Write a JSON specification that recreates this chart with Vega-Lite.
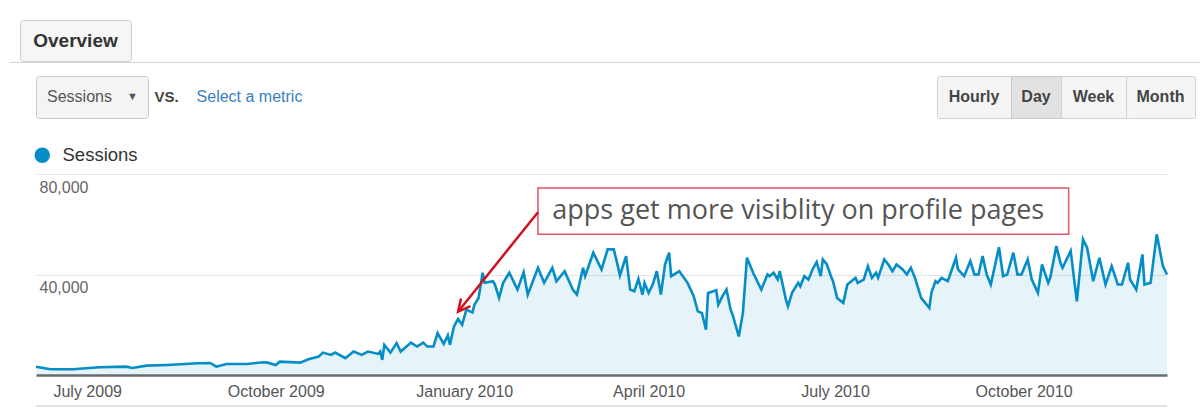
{
  "$schema": "https://vega.github.io/schema/vega-lite/v6.json",
  "padding": {"left": 10, "top": 19, "right": 0, "bottom": 0},
  "background": "white",
  "config": {
    "view": {"stroke": null},
    "font": "Liberation Sans"
  },
  "resolve": {"scale": {"color": "independent"}, "legend": {"color": "independent"}},
  "spacing": 27,
  "vconcat": [
    {
      "spacing": 12,
      "vconcat": [
        {
          "spacing": 0,
          "vconcat": [
            {
              "spacing": 0,
              "bounds": "flush",
              "hconcat": [
                {"width": 10, "height": 41, "data": {"values": []}, "mark": {"type": "text", "text": ""}},
                {
                  "width": 111,
                  "height": 41,
                  "view": {"fill": "#f6f6f6", "stroke": "#cccccc", "cornerRadius": 3},
                  "data": {"values": [{"label": "Overview"}]},
                  "mark": {"type": "text", "fontSize": 19, "fontWeight": "bold", "color": "#333333"},
                  "encoding": {"text": {"field": "label"}}
                }
              ]
            },
            {
              "width": 1190,
              "height": 1,
              "view": {"fill": "#d6d6d6"},
              "data": {"values": []},
              "mark": {"type": "text", "text": ""}
            }
          ]
        },
        {
          "spacing": 0,
          "bounds": "flush",
          "hconcat": [
            {"width": 26, "height": 42, "data": {"values": []}, "mark": {"type": "text", "text": ""}},
            {
              "width": 112,
              "height": 42,
              "view": {"fill": "#f4f4f4", "stroke": "#c8c8c8", "cornerRadius": 3},
              "data": {"values": [{"part": "Sessions"}, {"part": "▼"}]},
              "mark": {"type": "text", "color": "#555555"},
              "encoding": {
                "x": {
                  "field": "part",
                  "type": "nominal",
                  "scale": {"type": "point", "domain": ["Sessions", "▼"], "padding": 0.557, "align": 0.737},
                  "axis": null
                },
                "text": {"field": "part"},
                "size": {"condition": {"test": "datum.part === '▼'", "value": 11}, "value": 16}
              }
            },
            {
              "width": 37,
              "height": 42,
              "data": {"values": [{"label": "VS."}]},
              "mark": {"type": "text", "fontSize": 15, "fontWeight": "bold", "color": "#444444"},
              "encoding": {"text": {"field": "label"}}
            },
            {
              "width": 129,
              "height": 42,
              "data": {"values": [{"label": "Select a metric"}]},
              "mark": {"type": "text", "fontSize": 16, "color": "#3a7fc1"},
              "encoding": {"text": {"field": "label"}}
            },
            {"width": 623, "height": 42, "data": {"values": []}, "mark": {"type": "text", "text": ""}},
            {
              "width": 74,
              "height": 42,
              "view": {"fill": "#f5f5f5", "stroke": "#d0d0d0", "cornerRadius": 2},
              "data": {"values": [{"label": "Hourly"}]},
              "mark": {"type": "text", "fontSize": 16, "fontWeight": "bold", "color": "#444444"},
              "encoding": {"text": {"field": "label"}}
            },
            {
              "width": 50,
              "height": 42,
              "view": {"fill": "#e2e2e2", "stroke": "#c8c8c8"},
              "data": {"values": [{"label": "Day"}]},
              "mark": {"type": "text", "fontSize": 16, "fontWeight": "bold", "color": "#444444"},
              "encoding": {"text": {"field": "label"}}
            },
            {
              "width": 65,
              "height": 42,
              "view": {"fill": "#f5f5f5", "stroke": "#d0d0d0"},
              "data": {"values": [{"label": "Week"}]},
              "mark": {"type": "text", "fontSize": 16, "fontWeight": "bold", "color": "#444444"},
              "encoding": {"text": {"field": "label"}}
            },
            {
              "width": 69,
              "height": 42,
              "view": {"fill": "#f5f5f5", "stroke": "#d0d0d0", "cornerRadius": 2},
              "data": {"values": [{"label": "Month"}]},
              "mark": {"type": "text", "fontSize": 16, "fontWeight": "bold", "color": "#444444"},
              "encoding": {"text": {"field": "label"}}
            }
          ]
        }
      ]
    },
    {
      "spacing": 6,
      "resolve": {"scale": {"color": "independent"}, "legend": {"color": "independent"}},
      "vconcat": [
        {
          "spacing": 0,
          "bounds": "flush",
          "resolve": {"scale": {"color": "independent"}, "legend": {"color": "independent"}},
          "hconcat": [
            {"width": 26, "height": 20, "data": {"values": []}, "mark": {"type": "text", "text": ""}},
            {
              "width": 1131,
              "height": 201,
              "data": {
                "values": [
                  {"date": "2009-06-06", "sessions": 3320},
                  {"date": "2009-06-13", "sessions": 2280},
                  {"date": "2009-06-24", "sessions": 2280},
                  {"date": "2009-07-07", "sessions": 3080},
                  {"date": "2009-07-20", "sessions": 3320},
                  {"date": "2009-07-23", "sessions": 2800},
                  {"date": "2009-07-30", "sessions": 3720},
                  {"date": "2009-08-09", "sessions": 4000},
                  {"date": "2009-08-24", "sessions": 4680},
                  {"date": "2009-08-30", "sessions": 4800},
                  {"date": "2009-09-02", "sessions": 3320},
                  {"date": "2009-09-07", "sessions": 4400},
                  {"date": "2009-09-17", "sessions": 4400},
                  {"date": "2009-09-25", "sessions": 5080},
                  {"date": "2009-09-27", "sessions": 4920},
                  {"date": "2009-10-01", "sessions": 4000},
                  {"date": "2009-10-03", "sessions": 5320},
                  {"date": "2009-10-13", "sessions": 4920},
                  {"date": "2009-10-17", "sessions": 6280},
                  {"date": "2009-10-22", "sessions": 7320},
                  {"date": "2009-10-24", "sessions": 8920},
                  {"date": "2009-10-28", "sessions": 8000},
                  {"date": "2009-10-30", "sessions": 8920},
                  {"date": "2009-11-04", "sessions": 6680},
                  {"date": "2009-11-08", "sessions": 9320},
                  {"date": "2009-11-12", "sessions": 8000},
                  {"date": "2009-11-15", "sessions": 9320},
                  {"date": "2009-11-20", "sessions": 8400},
                  {"date": "2009-11-21", "sessions": 9320},
                  {"date": "2009-11-22", "sessions": 6000},
                  {"date": "2009-11-23", "sessions": 12000},
                  {"date": "2009-11-26", "sessions": 8920},
                  {"date": "2009-11-29", "sessions": 12680},
                  {"date": "2009-12-01", "sessions": 9320},
                  {"date": "2009-12-06", "sessions": 12920},
                  {"date": "2009-12-09", "sessions": 11320},
                  {"date": "2009-12-12", "sessions": 12920},
                  {"date": "2009-12-14", "sessions": 11320},
                  {"date": "2009-12-17", "sessions": 11320},
                  {"date": "2009-12-19", "sessions": 16680},
                  {"date": "2009-12-22", "sessions": 12400},
                  {"date": "2009-12-24", "sessions": 15800},
                  {"date": "2009-12-25", "sessions": 12000},
                  {"date": "2009-12-27", "sessions": 19320},
                  {"date": "2009-12-29", "sessions": 22280},
                  {"date": "2009-12-31", "sessions": 20000},
                  {"date": "2010-01-02", "sessions": 26000},
                  {"date": "2010-01-05", "sessions": 24920},
                  {"date": "2010-01-06", "sessions": 28000},
                  {"date": "2010-01-08", "sessions": 30680},
                  {"date": "2010-01-10", "sessions": 40680},
                  {"date": "2010-01-11", "sessions": 36680},
                  {"date": "2010-01-15", "sessions": 37320},
                  {"date": "2010-01-16", "sessions": 36000},
                  {"date": "2010-01-18", "sessions": 30680},
                  {"date": "2010-01-20", "sessions": 36680},
                  {"date": "2010-01-23", "sessions": 40680},
                  {"date": "2010-01-27", "sessions": 34000},
                  {"date": "2010-01-30", "sessions": 40920},
                  {"date": "2010-02-01", "sessions": 32000},
                  {"date": "2010-02-06", "sessions": 42680},
                  {"date": "2010-02-09", "sessions": 36680},
                  {"date": "2010-02-13", "sessions": 42680},
                  {"date": "2010-02-15", "sessions": 37320},
                  {"date": "2010-02-19", "sessions": 41320},
                  {"date": "2010-02-23", "sessions": 34000},
                  {"date": "2010-02-25", "sessions": 32000},
                  {"date": "2010-02-28", "sessions": 42680},
                  {"date": "2010-03-01", "sessions": 39320},
                  {"date": "2010-03-05", "sessions": 48680},
                  {"date": "2010-03-09", "sessions": 42000},
                  {"date": "2010-03-12", "sessions": 50000},
                  {"date": "2010-03-15", "sessions": 50000},
                  {"date": "2010-03-17", "sessions": 43320},
                  {"date": "2010-03-18", "sessions": 39600},
                  {"date": "2010-03-21", "sessions": 47320},
                  {"date": "2010-03-23", "sessions": 34000},
                  {"date": "2010-03-25", "sessions": 33320},
                  {"date": "2010-03-27", "sessions": 38280},
                  {"date": "2010-03-29", "sessions": 32000},
                  {"date": "2010-03-30", "sessions": 36680},
                  {"date": "2010-04-01", "sessions": 32680},
                  {"date": "2010-04-03", "sessions": 36000},
                  {"date": "2010-04-05", "sessions": 41320},
                  {"date": "2010-04-07", "sessions": 32000},
                  {"date": "2010-04-09", "sessions": 44000},
                  {"date": "2010-04-11", "sessions": 48680},
                  {"date": "2010-04-12", "sessions": 39320},
                  {"date": "2010-04-16", "sessions": 41320},
                  {"date": "2010-04-20", "sessions": 36680},
                  {"date": "2010-04-23", "sessions": 31320},
                  {"date": "2010-04-25", "sessions": 25320},
                  {"date": "2010-04-27", "sessions": 24680},
                  {"date": "2010-04-29", "sessions": 18000},
                  {"date": "2010-04-30", "sessions": 32680},
                  {"date": "2010-05-04", "sessions": 33720},
                  {"date": "2010-05-05", "sessions": 28000},
                  {"date": "2010-05-07", "sessions": 31320},
                  {"date": "2010-05-09", "sessions": 34000},
                  {"date": "2010-05-11", "sessions": 26000},
                  {"date": "2010-05-12", "sessions": 24000},
                  {"date": "2010-05-15", "sessions": 15320},
                  {"date": "2010-05-17", "sessions": 24680},
                  {"date": "2010-05-19", "sessions": 46680},
                  {"date": "2010-05-22", "sessions": 40680},
                  {"date": "2010-05-24", "sessions": 37320},
                  {"date": "2010-05-26", "sessions": 34000},
                  {"date": "2010-05-29", "sessions": 40000},
                  {"date": "2010-05-30", "sessions": 39320},
                  {"date": "2010-06-01", "sessions": 40680},
                  {"date": "2010-06-03", "sessions": 38000},
                  {"date": "2010-06-04", "sessions": 41320},
                  {"date": "2010-06-07", "sessions": 30000},
                  {"date": "2010-06-08", "sessions": 27320},
                  {"date": "2010-06-10", "sessions": 32680},
                  {"date": "2010-06-13", "sessions": 36680},
                  {"date": "2010-06-14", "sessions": 35320},
                  {"date": "2010-06-16", "sessions": 39320},
                  {"date": "2010-06-18", "sessions": 38000},
                  {"date": "2010-06-20", "sessions": 42000},
                  {"date": "2010-06-22", "sessions": 44920},
                  {"date": "2010-06-24", "sessions": 39320},
                  {"date": "2010-06-25", "sessions": 46000},
                  {"date": "2010-06-27", "sessions": 44000},
                  {"date": "2010-06-29", "sessions": 39320},
                  {"date": "2010-06-30", "sessions": 37320},
                  {"date": "2010-07-02", "sessions": 30680},
                  {"date": "2010-07-05", "sessions": 28680},
                  {"date": "2010-07-07", "sessions": 36000},
                  {"date": "2010-07-11", "sessions": 38680},
                  {"date": "2010-07-12", "sessions": 36680},
                  {"date": "2010-07-15", "sessions": 38000},
                  {"date": "2010-07-17", "sessions": 43320},
                  {"date": "2010-07-19", "sessions": 38680},
                  {"date": "2010-07-21", "sessions": 40680},
                  {"date": "2010-07-22", "sessions": 38680},
                  {"date": "2010-07-25", "sessions": 46000},
                  {"date": "2010-07-27", "sessions": 44000},
                  {"date": "2010-07-29", "sessions": 41320},
                  {"date": "2010-07-31", "sessions": 44000},
                  {"date": "2010-08-03", "sessions": 42000},
                  {"date": "2010-08-05", "sessions": 40000},
                  {"date": "2010-08-07", "sessions": 42680},
                  {"date": "2010-08-09", "sessions": 38680},
                  {"date": "2010-08-12", "sessions": 30680},
                  {"date": "2010-08-14", "sessions": 28680},
                  {"date": "2010-08-16", "sessions": 26680},
                  {"date": "2010-08-17", "sessions": 32680},
                  {"date": "2010-08-19", "sessions": 37320},
                  {"date": "2010-08-20", "sessions": 36680},
                  {"date": "2010-08-22", "sessions": 38680},
                  {"date": "2010-08-25", "sessions": 37320},
                  {"date": "2010-08-27", "sessions": 42000},
                  {"date": "2010-08-29", "sessions": 46680},
                  {"date": "2010-08-30", "sessions": 42000},
                  {"date": "2010-09-02", "sessions": 39320},
                  {"date": "2010-09-05", "sessions": 45320},
                  {"date": "2010-09-07", "sessions": 40000},
                  {"date": "2010-09-09", "sessions": 40000},
                  {"date": "2010-09-11", "sessions": 47320},
                  {"date": "2010-09-13", "sessions": 40000},
                  {"date": "2010-09-15", "sessions": 36000},
                  {"date": "2010-09-19", "sessions": 50920},
                  {"date": "2010-09-21", "sessions": 39320},
                  {"date": "2010-09-23", "sessions": 40000},
                  {"date": "2010-09-26", "sessions": 48680},
                  {"date": "2010-09-28", "sessions": 40000},
                  {"date": "2010-09-30", "sessions": 40000},
                  {"date": "2010-10-03", "sessions": 46000},
                  {"date": "2010-10-05", "sessions": 38000},
                  {"date": "2010-10-08", "sessions": 32680},
                  {"date": "2010-10-10", "sessions": 44000},
                  {"date": "2010-10-13", "sessions": 36680},
                  {"date": "2010-10-14", "sessions": 38680},
                  {"date": "2010-10-17", "sessions": 51320},
                  {"date": "2010-10-19", "sessions": 44680},
                  {"date": "2010-10-20", "sessions": 42680},
                  {"date": "2010-10-24", "sessions": 49320},
                  {"date": "2010-10-27", "sessions": 29320},
                  {"date": "2010-10-30", "sessions": 54000},
                  {"date": "2010-11-01", "sessions": 50680},
                  {"date": "2010-11-04", "sessions": 37320},
                  {"date": "2010-11-07", "sessions": 46680},
                  {"date": "2010-11-10", "sessions": 36000},
                  {"date": "2010-11-13", "sessions": 43320},
                  {"date": "2010-11-16", "sessions": 36000},
                  {"date": "2010-11-18", "sessions": 36000},
                  {"date": "2010-11-21", "sessions": 44680},
                  {"date": "2010-11-22", "sessions": 38000},
                  {"date": "2010-11-25", "sessions": 34000},
                  {"date": "2010-11-28", "sessions": 48000},
                  {"date": "2010-11-29", "sessions": 36000},
                  {"date": "2010-12-02", "sessions": 36680},
                  {"date": "2010-12-05", "sessions": 56000},
                  {"date": "2010-12-08", "sessions": 43320},
                  {"date": "2010-12-10", "sessions": 40000}
                ]
              },
              "resolve": {"axis": {"x": "independent", "y": "independent"}},
              "layer": [
                {
                  "mark": {"type": "area", "color": "#058dc7", "opacity": 0.1},
                  "encoding": {
                    "x": {
                      "field": "date",
                      "type": "temporal",
                      "scale": {"type": "utc", "nice": false, "domain": [{"year": 2009, "month": 6, "date": 6, "utc": true}, {"year": 2010, "month": 12, "date": 10, "utc": true}]},
                      "axis": {
                        "orient": "bottom",
                        "title": null,
                        "values": [
                          {"year": 2009, "month": 7, "date": 1, "utc": true},
                          {"year": 2009, "month": 10, "date": 1, "utc": true},
                          {"year": 2010, "month": 1, "date": 1, "utc": true},
                          {"year": 2010, "month": 4, "date": 1, "utc": true},
                          {"year": 2010, "month": 7, "date": 1, "utc": true},
                          {"year": 2010, "month": 10, "date": 1, "utc": true}
                        ],
                        "format": "%B %Y",
                        "grid": false,
                        "ticks": false,
                        "labelFlush": false,
                        "labelOverlap": false,
                        "labelFontSize": 16,
                        "labelColor": "#555555",
                        "labelPadding": 8,
                        "domainColor": "#6a6a6a",
                        "domainWidth": 2.5
                      }
                    },
                    "y": {
                      "field": "sessions",
                      "type": "quantitative",
                      "scale": {"domain": [0, 80000], "nice": false},
                      "axis": {
                        "orient": "left",
                        "title": null,
                        "values": [40000, 80000],
                        "format": ",.0f",
                        "grid": true,
                        "gridColor": "#e4e4e4",
                        "domain": false,
                        "ticks": false,
                        "labelAlign": "left",
                        "labelBaseline": "top",
                        "labelPadding": -3,
                        "labelOffset": 5,
                        "labelFontSize": 16,
                        "labelColor": "#666666"
                      }
                    }
                  }
                },
                {
                  "mark": {"type": "line", "strokeWidth": 2.6},
                  "encoding": {
                    "x": {"field": "date", "type": "temporal", "axis": null},
                    "y": {"field": "sessions", "type": "quantitative", "axis": null},
                    "color": {
                      "datum": "Sessions",
                      "scale": {"range": ["#058dc7"]},
                      "legend": {
                        "title": null,
                        "orient": "top",
                        "offset": 8,
                        "padding": 0,
                        "symbolType": "circle",
                        "symbolSize": 196,
                        "symbolOffset": -3,
                        "labelFontSize": 18.5,
                        "labelColor": "#333333",
                        "labelOffset": 11,
                        "encode": {
                          "symbols": {"update": {"fill": {"value": "#058dc7"}, "stroke": {"value": "transparent"}, "opacity": {"value": 1}}}
                        }
                      }
                    }
                  }
                },
                {
                  "data": {
                    "values": [
                      {"note": "apps get more visiblity on profile pages", "boxFrom": "2010-02-06", "boxTo": "2010-10-23", "boxLow": 56000, "boxHigh": 74400, "noteAt": "2010-02-13", "noteY": 65200, "arrowFrom": "2010-02-06", "arrowFromY": 64800, "arrowTo": "2009-12-29", "arrowToY": 25200}
                    ]
                  },
                  "layer": [
                    {
                      "mark": {"type": "rect", "fill": "white", "stroke": "#e05562", "strokeWidth": 1.5},
                      "encoding": {
                        "x": {"field": "boxFrom", "type": "temporal", "axis": null},
                        "x2": {"field": "boxTo"},
                        "y": {"field": "boxHigh", "type": "quantitative", "axis": null},
                        "y2": {"field": "boxLow"}
                      }
                    },
                    {
                      "mark": {"type": "rule", "color": "#d0121f", "strokeWidth": 2.5},
                      "encoding": {
                        "x": {"field": "arrowFrom", "type": "temporal", "axis": null},
                        "x2": {"field": "arrowTo"},
                        "y": {"field": "arrowFromY", "type": "quantitative", "axis": null},
                        "y2": {"field": "arrowToY"}
                      }
                    },
                    {
                      "mark": {"type": "point", "shape": "M -0.5 1 L 0 0 L 0.5 1", "angle": 219, "size": 500, "filled": false, "color": "#d0121f", "strokeWidth": 2.5, "opacity": 1, "strokeCap": "round"},
                      "encoding": {
                        "x": {"field": "arrowTo", "type": "temporal", "axis": null},
                        "y": {"field": "arrowToY", "type": "quantitative", "axis": null}
                      }
                    },
                    {
                      "mark": {"type": "text", "align": "left", "baseline": "middle", "font": "Open Sans", "fontSize": 27, "color": "#555555"},
                      "encoding": {
                        "x": {"field": "noteAt", "type": "temporal", "axis": null},
                        "y": {"field": "noteY", "type": "quantitative", "axis": null},
                        "text": {"field": "note"}
                      }
                    }
                  ]
                }
              ]
            }
          ]
        },
        {
          "spacing": 0,
          "bounds": "flush",
          "hconcat": [
            {"width": 26, "height": 2, "data": {"values": []}, "mark": {"type": "text", "text": ""}},
            {
              "width": 1131,
              "height": 2,
              "view": {"fill": "#e2e2e2"},
              "data": {"values": []},
              "mark": {"type": "text", "text": ""}
            }
          ]
        }
      ]
    }
  ]
}
